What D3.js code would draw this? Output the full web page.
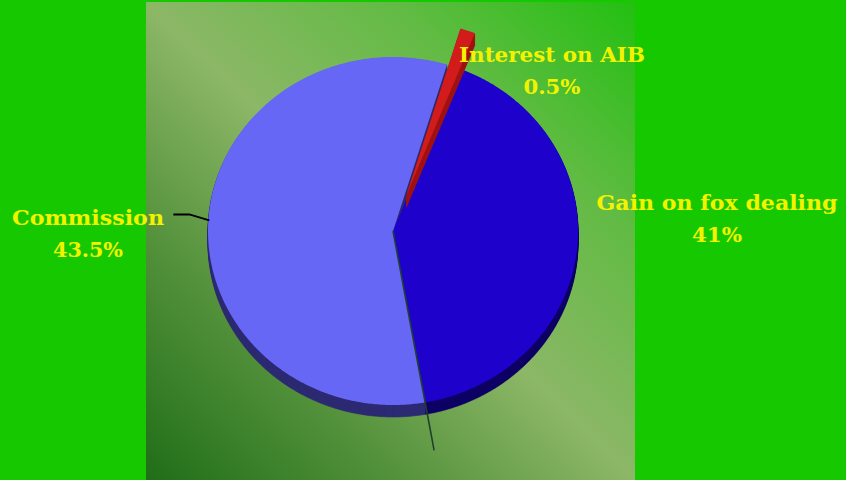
<!DOCTYPE html>
<html><head><meta charset="utf-8">
<script src="https://cdn.jsdelivr.net/npm/d3@7"></script>
<style>html,body{margin:0;padding:0;background:#16c800;}svg{display:block;}</style>
</head><body>
<svg id="chart" width="846" height="480"></svg>
<script>
// ---- data ----
const categories = ["Interest on AIB", "Gain on fox dealing", "Commission"];
const labelPercents = ["0.5%", "41%", "43.5%"];
const shares = [1.3, 41.2, 57.5];          // angular share each slice occupies in the drawn pie
const colors = ["#d21c1c", "#1e02cc", "#6767f6"];
const sideColors = ["#a01212", "#0e0064", "#2c2a72"];
const exploded = [true, false, false];

// ---- layout ----
const W = 846, H = 480;
const cx = 393, cy = 231, rx = 185, ry = 174, depth = 12;
const explodeDist = 0.22;
const startDeg = 17.0;

const svg = d3.select("#chart");
svg.append("rect").attr("width", W).attr("height", H).attr("fill", "#16c800");

const defs = svg.append("defs");
const grad = defs.append("linearGradient").attr("id", "panelGrad")
  .attr("x1", 0).attr("y1", 1).attr("x2", 1).attr("y2", 0);
grad.append("stop").attr("offset", 0).attr("stop-color", "#206e18");
grad.append("stop").attr("offset", 0.25).attr("stop-color", "#52903a");
grad.append("stop").attr("offset", 0.5).attr("stop-color", "#8cb767");
grad.append("stop").attr("offset", 0.75).attr("stop-color", "#62bb44");
grad.append("stop").attr("offset", 1).attr("stop-color", "#22c010");
svg.append("rect").attr("x", 146).attr("y", 2).attr("width", 489).attr("height", 478)
  .attr("fill", "url(#panelGrad)");

const data = categories.map((c, i) => ({ cat: c, pct: labelPercents[i], share: shares[i], color: colors[i], side: sideColors[i], exploded: exploded[i] }));
const pie = d3.pie().sort(null).value(d => d.share)
  .startAngle(startDeg * Math.PI / 180).endAngle(startDeg * Math.PI / 180 + 2 * Math.PI);
const arcs = pie(data);

// elliptical projection via scales
const sx = d3.scaleLinear().domain([-1, 1]).range([cx - rx, cx + rx]);
const sy = d3.scaleLinear().domain([-1, 1]).range([cy - ry, cy + ry]);
const pt = (a, r, ox = 0, oy = 0, dz = 0) => [sx(r * Math.sin(a)) + ox, sy(-r * Math.cos(a)) + oy + dz];

function offsetOf(a) {
  if (!a.data.exploded) return [0, 0];
  const m = (a.startAngle + a.endAngle) / 2;
  return [explodeDist * rx * Math.sin(m), -explodeDist * ry * Math.cos(m)];
}
function slicePoints(a, dz) {
  const [ox, oy] = offsetOf(a);
  const n = Math.max(2, Math.ceil((a.endAngle - a.startAngle) / 0.01));
  const pts = [[cx + ox, cy + oy + dz]];
  d3.range(n + 1).forEach(i => {
    const t = a.startAngle + (a.endAngle - a.startAngle) * i / n;
    pts.push(pt(t, 1, ox, oy, dz));
  });
  return pts;
}
const line = d3.line().curve(d3.curveLinearClosed);

function drawSlice(g, a) {
  for (let k = depth; k >= 1; k--) {
    g.append("path").attr("d", line(slicePoints(a, k))).attr("fill", a.data.side).attr("stroke", a.data.side).attr("stroke-width", 0.6);
  }
}
const gPie = svg.append("g");
const normal = arcs.filter(a => !a.data.exploded);
const expl = arcs.filter(a => a.data.exploded);
normal.forEach(a => drawSlice(gPie, a));
normal.forEach(a => gPie.append("path").attr("d", line(slicePoints(a, 0))).attr("fill", a.data.color));
expl.forEach(a => drawSlice(gPie, a));
expl.forEach(a => gPie.append("path").attr("d", line(slicePoints(a, 0))).attr("fill", a.data.color));

// boundary line of the Gain slice end, extended
const gain = arcs[1];
const pEnd = pt(gain.endAngle, 1.28);
svg.append("line").attr("x1", cx).attr("y1", cy).attr("x2", pEnd[0]).attr("y2", pEnd[1])
  .attr("stroke", "#20402c").attr("stroke-width", 1.6);

// leader line for Commission
const com = arcs[2];
const mid = (com.startAngle + com.endAngle) / 2;
const pm = pt(mid, 1);
svg.append("path").attr("d", d3.line()([[pm[0] + 1, pm[1]], [pm[0] - 19, pm[1] - 6], [pm[0] - 35, pm[1] - 6]]))
  .attr("fill", "none").attr("stroke", "#000").attr("stroke-width", 2);

// labels
const labelPos = [[552, 62], [717, 210], [88, 225]];
const labelW = [[186, 57], [241, 50], [152, 70]];
const gl = svg.append("g").attr("font-family", "DejaVu Serif, serif").attr("font-weight", "bold")
  .attr("font-size", 21).attr("fill", "#f3f300").attr("text-anchor", "middle");
data.forEach((d, i) => {
  gl.append("text").attr("x", labelPos[i][0]).attr("y", labelPos[i][1]).text(d.cat)
    .attr("textLength", labelW[i][0]).attr("lengthAdjust", "spacingAndGlyphs");
  gl.append("text").attr("x", labelPos[i][0]).attr("y", labelPos[i][1] + 32).text(d.pct)
    .attr("textLength", labelW[i][1]).attr("lengthAdjust", "spacingAndGlyphs");
});
</script>
</body></html>
